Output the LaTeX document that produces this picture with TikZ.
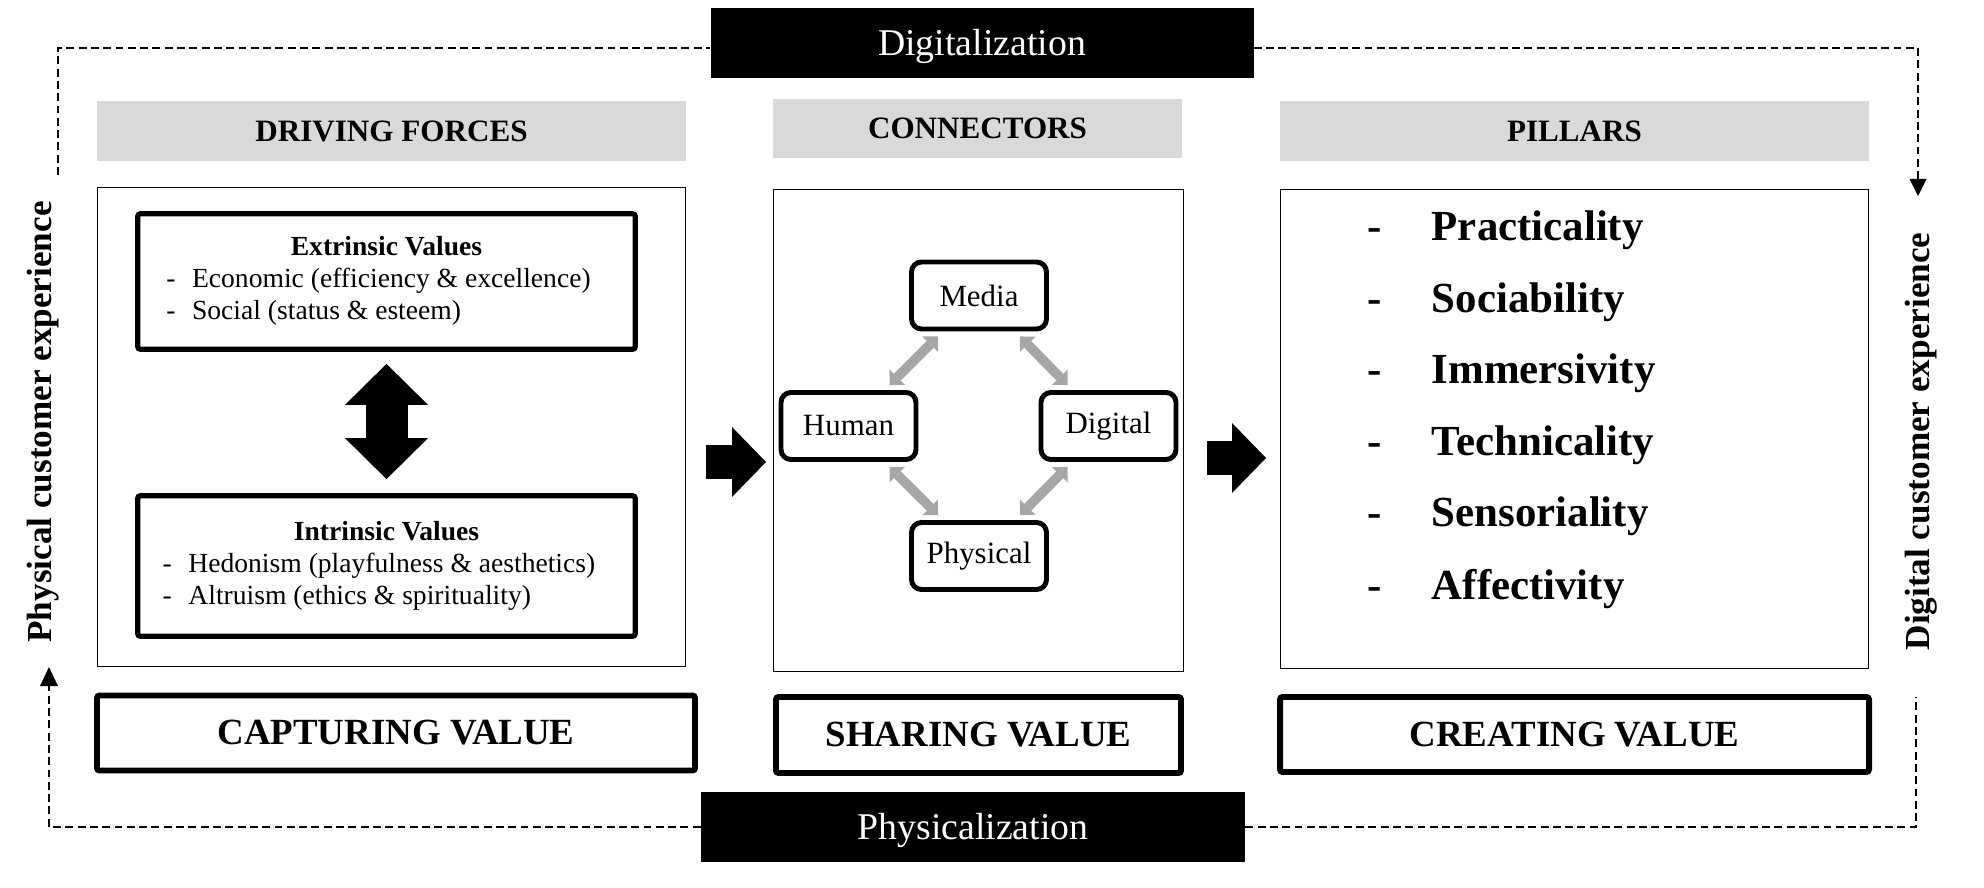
\documentclass[tikz,border=0pt]{standalone}
\usepackage{fontspec}
\setmainfont{Liberation Serif}
\usetikzlibrary{arrows.meta}
\newcommand{\fsz}[2]{\fontsize{#1}{#2}\selectfont}

\begin{document}
\begin{tikzpicture}[
  blk/.style={fill=black, text=white, minimum width=10.86cm, minimum height=1.4cm, text height=17pt, text depth=2.5pt, font=\fsz{21.5}{25}},
  hdr/.style={fill=black!15, minimum width=11.78cm, minimum height=1.2cm, font=\bfseries\fsz{17.7}{21}},
  panel/.style={draw, line width=0.8pt, minimum width=11.75cm, minimum height=9.57cm},
  valbox/.style={draw, line width=3pt, rounded corners=1.5pt, minimum width=9.95cm, font=\fsz{15.7}{18.2}},
  conn/.style={draw, line width=2.8pt, rounded corners=0.2cm, minimum width=2.7cm, minimum height=1.34cm, font=\fsz{17.6}{20}},
  vbox/.style={draw, line width=3.4pt, rounded corners=1.5pt, minimum height=1.5cm, font=\bfseries\fsz{21}{24}},
  pil/.style={anchor=base west, inner sep=0pt, font=\bfseries\fsz{24.4}{28}},
  side/.style={rotate=90, font=\bfseries\fsz{20}{24}},
  dashline/.style={line width=1.2pt, dash pattern=on 4.5pt off 2.5pt},
  gar/.style={black!35, line width=5.5pt, {Triangle[width=0.44cm,length=0.22cm,line width=0pt]}-{Triangle[width=0.44cm,length=0.22cm,line width=0pt]}},
  fatarr/.style={line width=0.68cm, -{Triangle[width=1.4cm,length=0.68cm,line width=0pt]}}]
\useasboundingbox (0,0) rectangle (39.68,-17.76);

% outer loop
\node[blk] (digi) at (19.64,-0.86) {Digitalization};
\node[blk, minimum width=10.88cm] (phys) at (19.46,-16.54) {Physicalization};
\node[side] (physexp) at (0.864,-8.44) {Physical customer experience};
\node[side] (digiexp) at (38.43,-8.83) {Digital customer experience};
\coordinate (tl) at (1.16,-3.5);
\coordinate (tr) at (38.36,-3.92);
\coordinate (bl) at (0.98,-13.34);
\coordinate (br) at (38.32,-13.94);
\draw[dashline] (tl) |- ([yshift=-0.1cm]digi.west);
\draw[dashline, -{Triangle[length=0.34cm,width=0.34cm,line width=0pt]}] ([yshift=-0.1cm]digi.east) -| (tr);
\draw[dashline, -{Triangle[length=0.38cm,width=0.36cm,line width=0pt]}] (phys.west) -| (bl);
\draw[dashline] (phys.east) -| (br);

% headers and panels
\node[hdr] (hdrDF) at (7.83,-2.62) {DRIVING FORCES};
\node[hdr, minimum width=8.18cm, minimum height=1.18cm] (hdrCN) at (19.55,-2.57) {CONNECTORS};
\node[hdr] (hdrPL) at (31.49,-2.62) {PILLARS};
\node[panel] (pDF) at (7.83,-8.54) {};
\node[panel, minimum width=8.19cm, minimum height=9.63cm] (pCN) at (19.57,-8.61) {};
\node[panel] (pPL) at (31.49,-8.58) {};

% driving forces
\node[valbox, minimum height=2.71cm] (ext) at (7.73,-5.63) {\begin{tabular}{@{}l@{\hspace{0.32cm}}}\multicolumn{1}{@{}c@{}}{\textbf{Extrinsic Values}}\\-\hspace{0.6em}Economic (efficiency \& excellence)\\-\hspace{0.6em}Social (status \& esteem)\end{tabular}};
\node[valbox, minimum height=2.81cm] (int) at (7.73,-11.32) {\begin{tabular}{@{}l@{\hspace{0.3cm}}}\multicolumn{1}{@{}c@{}}{\textbf{Intrinsic Values}}\\-\hspace{0.6em}Hedonism (playfulness \& aesthetics)\\-\hspace{0.6em}Altruism (ethics \& spirituality)\end{tabular}};
\draw[line width=0.84cm, {Triangle[width=1.66cm,length=0.82cm,line width=0pt]}-{Triangle[width=1.66cm,length=0.82cm,line width=0pt]}] ([yshift=-0.24cm]ext.south) -- ([yshift=0.28cm]int.north);

% connectors
\node[conn] (media) at (19.58,-5.91) {Media};
\node[conn] (human) at (16.97,-8.52) {Human};
\node[conn] (digital) at (22.17,-8.52) {Digital};
\node[conn] (physical) at (19.58,-11.12) {Physical};
\draw[gar] ([shift={(-0.82,-0.1)}]media.south) -- ([shift={(0.82,0.1)}]human.north);
\draw[gar] ([shift={(0.82,-0.1)}]media.south) -- ([shift={(-0.82,0.1)}]digital.north);
\draw[gar] ([shift={(0.82,-0.1)}]human.south) -- ([shift={(-0.82,0.1)}]physical.north);
\draw[gar] ([shift={(-0.82,-0.1)}]digital.south) -- ([shift={(0.82,0.1)}]physical.north);

\coordinate (a1s) at (14.12,-9.24);
\coordinate (a1e) at (15.32,-9.24);
\coordinate (a2s) at (24.14,-9.16);
\coordinate (a2e) at (25.32,-9.16);
\draw[fatarr] (a1s) -- (a1e);
\draw[fatarr] (a2s) -- (a2e);

% pillars
\node[pil] (prac) at (27.34,-4.82) {-\hspace{1.17em}Practicality};
\node[pil] (soci) at (27.34,-6.26) {-\hspace{1.17em}Sociability};
\node[pil] (imme) at (27.34,-7.68) {-\hspace{1.17em}Immersivity};
\node[pil] (tech) at (27.34,-9.12) {-\hspace{1.17em}Technicality};
\node[pil] (sens) at (27.34,-10.54) {-\hspace{1.17em}Sensoriality};
\node[pil] (affe) at (27.34,-11.98) {-\hspace{1.17em}Affectivity};

% value boxes
\node[vbox, minimum width=11.96cm] (capt) at (7.92,-14.66) {CAPTURING VALUE};
\node[vbox, minimum width=8.1cm, minimum height=1.52cm] (shar) at (19.57,-14.7) {SHARING VALUE};
\node[vbox, minimum width=11.78cm] (creat) at (31.49,-14.69) {CREATING VALUE};
\end{tikzpicture}
\end{document}
